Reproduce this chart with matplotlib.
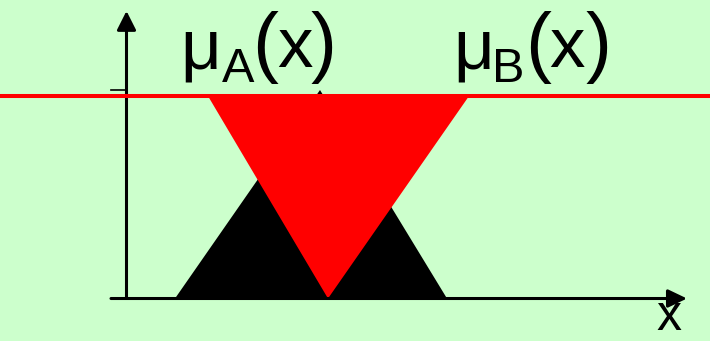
import matplotlib
matplotlib.use("Agg")
import matplotlib.pyplot as plt
from matplotlib.patches import Polygon

# ---------------------------------
# DATA (x in arbitrary units, y = membership degree)
# ---------------------------------
black_x = [0.97, 3.87, 6.41]
black_y = [0.0, 1.0, 0.0]
red_x = [1.63, 4.03, 6.85]
red_y = [0.971, 0.0, 0.971]
red_level = 0.971
tick_level = 1.0
labels = ["\u03bc", "(", "x", ")"]
subs = ["A", "B"]
axis_label = "x"

BG = "#ccffcc"
W, H = 710, 341

fig = plt.figure(figsize=(W / 100, H / 100), dpi=100, facecolor=BG)
ax = fig.add_axes([0, 0, 1, 1])
ax.set_facecolor(BG)
ax.set_xlim(-2.53, 11.67)
ax.set_ylim(-0.2038, 1.4317)
ax.axis("off")

# membership shapes
ax.add_patch(Polygon(list(zip(black_x, black_y)), closed=True,
                     facecolor="black", edgecolor="none", zorder=2))
ax.add_patch(Polygon(list(zip(red_x, red_y)), closed=True,
                     facecolor="#ff0000", edgecolor="none", zorder=3))

# axes with arrows
ax.annotate("", xy=(0, 1.379), xytext=(0, 0),
            arrowprops=dict(arrowstyle="-|>,head_length=1.15,head_width=0.58",
                            lw=2.2, color="black", shrinkA=0, shrinkB=0),
            zorder=4)
ax.annotate("", xy=(11.21, 0), xytext=(-0.31, 0),
            arrowprops=dict(arrowstyle="-|>,head_length=1.15,head_width=0.55",
                            lw=2.2, color="black", shrinkA=0, shrinkB=0),
            zorder=6)
ax.plot([-0.31, 0], [tick_level, tick_level], color="black", lw=1.2, zorder=4)

# red alpha-cut line
ax.axhline(red_level, color="#ff0000", lw=2.9, zorder=5)


# ---------------------------------
# LABELS (placed character by character)
# ---------------------------------
def put(ch, cx, base, size, va="baseline"):
    fig.text(cx / W, 1 - base / H, ch, ha="center", va=va,
             fontsize=size, family="Liberation Sans", color="black")


for sub, centers in zip(subs, [(201, 238, 265, 295, 323.5),
                                (473.5, 508.5, 538.5, 566.5, 598)]):
    put(labels[0], centers[0], 68, 51)
    put(sub, centers[1], 82, 35)
    put(labels[1], centers[2], 68, 56)
    put(labels[2], centers[3], 67, 51)
    put(labels[3], centers[4], 68, 56)

# axis name sits right at the bottom edge
put(axis_label, 669, 340, 36, va="bottom")

fig.savefig("out.png", dpi=100, facecolor=BG)
